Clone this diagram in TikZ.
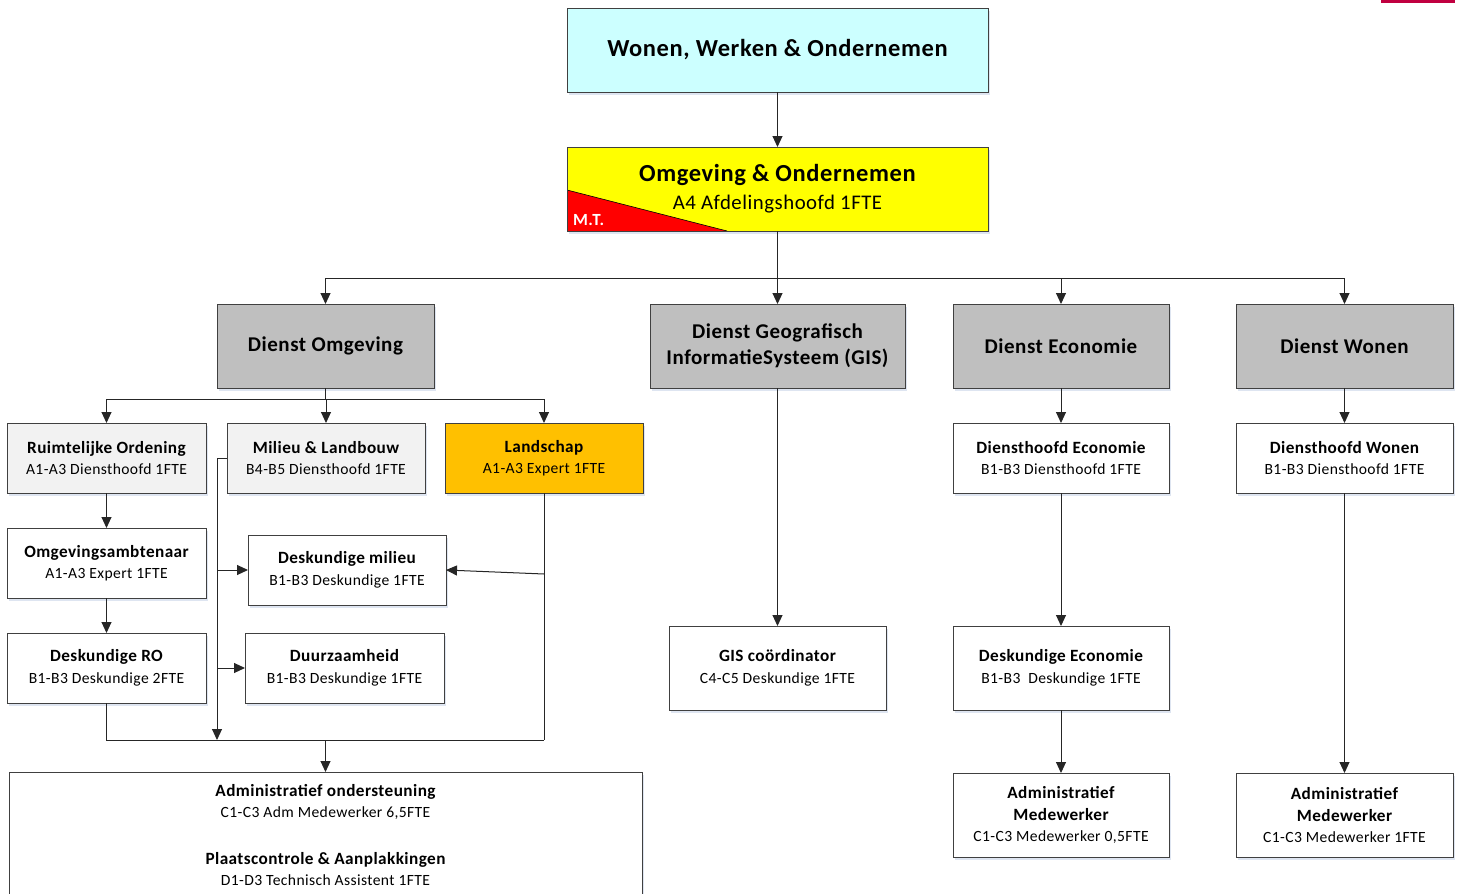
\documentclass[tikz,border=0pt]{standalone}
\usepackage{fontspec}
\setmainfont{Carlito}[LetterSpace=2.5]
\usetikzlibrary{arrows.meta,shadows}
\definecolor{topc}{HTML}{CCFFFF}
\definecolor{yel}{HTML}{FFFF00}
\definecolor{redc}{HTML}{FF0000}
\definecolor{grayc}{HTML}{BFBFBF}
\definecolor{lightc}{HTML}{F2F2F2}
\definecolor{orangec}{HTML}{FFC000}
\definecolor{boxline}{HTML}{404040}
\definecolor{crim}{HTML}{C00040}
\definecolor{shadc}{HTML}{C8D4E8}
\newcommand\ttl[1]{{\bfseries\fontsize{17.2}{21.5}\selectfont #1}}
\newcommand\sbt[1]{{\fontsize{15.6}{21.5}\selectfont #1}}
\begin{document}
\begin{tikzpicture}[x=1pt,y=-1pt,
  box/.style={draw=boxline, line width=1pt, anchor=north west, inner sep=0pt, outer sep=0pt,
    align=center, font=\fontsize{15.6}{21.5}\selectfont, fill=white,
    drop shadow={shadow xshift=2pt, shadow yshift=-3pt, fill=shadc, opacity=0.6}},
  dienst/.style={box, fill=grayc, minimum height=84pt, font=\bfseries\fontsize{21}{26}\selectfont},
  small/.style={box, minimum height=70pt},
  arr/.style={draw=black!85, line width=1pt, -{Triangle[length=11pt,width=10pt]}},
  ln/.style={draw=black!85, line width=1pt}]
\useasboundingbox (0,0) rectangle (1460,894);
\fill[crim] (1381,0) rectangle (1455,3);

% top levels
\node[box, fill=topc, minimum width=421pt, minimum height=84pt, font=\bfseries\fontsize{24.5}{28}\selectfont] (top) at (567,8) {Wonen, Werken \& Ondernemen};
\node[box, fill=yel, minimum width=421pt, minimum height=84pt, font=\fontsize{20.8}{28}\selectfont,
  path picture={\fill[redc] ([yshift=41pt]path picture bounding box.south west) -- ([xshift=160pt]path picture bounding box.south west) -- (path picture bounding box.south west) -- cycle;
  \draw[black, line width=0.6pt] ([yshift=41pt]path picture bounding box.south west) -- ([xshift=160pt]path picture bounding box.south west);}]
  (om) at (567,147) {{\bfseries\fontsize{24.5}{28}\selectfont Omgeving \& Ondernemen}\\A4 Afdelingshoofd 1FTE};
\node[anchor=west, text=white, font=\bfseries\fontsize{17}{18}\selectfont, inner sep=0pt] (mt) at (573,220) {M.T.};

% diensten
\node[dienst, minimum width=217pt] (do) at (217,304) {Dienst Omgeving};
\node[dienst, minimum width=255pt] (gis) at (650,304) {Dienst Geografisch\\InformatieSysteem (GIS)};
\node[dienst, minimum width=216pt] (dec) at (953,304) {Dienst Economie};
\node[dienst, minimum width=217pt] (dw) at (1236,304) {Dienst Wonen};

% omgeving cluster
\node[small, fill=lightc, minimum width=199pt] (ro) at (7,423) {\ttl{Ruimtelijke Ordening}\\\sbt{A1-A3 Diensthoofd 1FTE}};
\node[small, fill=lightc, minimum width=198pt] (ml) at (227,423) {\ttl{Milieu \& Landbouw}\\\sbt{B4-B5 Diensthoofd 1FTE}};
\node[small, fill=orangec, minimum width=198pt] (ls) at (445,423) {\ttl{Landschap}\\\sbt{A1-A3 Expert 1FTE}};
\node[small, minimum width=199pt] (oa) at (7,528) {\ttl{Omgevingsambtenaar}\\\sbt{A1-A3 Expert 1FTE}};
\node[small, minimum width=198pt] (dm) at (248,535) {\ttl{Deskundige milieu}\\\sbt{B1-B3 Deskundige 1FTE}};
\node[small, minimum width=199pt] (dro) at (7,633) {\ttl{Deskundige RO}\\\sbt{B1-B3 Deskundige 2FTE}};
\node[small, minimum width=199pt] (dz) at (245,633) {\ttl{Duurzaamheid}\\\sbt{B1-B3 Deskundige 1FTE}};
\node[box, minimum width=633pt, minimum height=130pt] (adm) at (9,772) {};
\node[anchor=north, inner sep=0pt, align=center, font=\fontsize{15.6}{21}\selectfont] (admt) at ([yshift=-12pt]adm.north)
  {\ttl{Administratief ondersteuning}\\\sbt{C1-C3 Adm Medewerker 6,5FTE}\\[26pt]\ttl{Plaatscontrole \& Aanplakkingen}\\\sbt{D1-D3 Technisch Assistent 1FTE}};

% GIS
\node[box, minimum width=217pt, minimum height=84pt] (gisc) at (669,626) {\ttl{GIS coördinator}\\\sbt{C4-C5 Deskundige 1FTE}};
% Economie
\node[small, minimum width=216pt] (dhe) at (953,423) {\ttl{Diensthoofd Economie}\\\sbt{B1-B3 Diensthoofd 1FTE}};
\node[box, minimum width=216pt, minimum height=84pt] (de) at (953,626) {\ttl{Deskundige Economie}\\\sbt{B1-B3~ Deskundige 1FTE}};
\node[box, minimum width=216pt, minimum height=84pt] (ame) at (953,773) {\ttl{Administratief}\\\ttl{Medewerker}\\\sbt{C1-C3 Medewerker 0,5FTE}};
% Wonen
\node[small, minimum width=217pt] (dhw) at (1236,423) {\ttl{Diensthoofd Wonen}\\\sbt{B1-B3 Diensthoofd 1FTE}};
\node[box, minimum width=217pt, minimum height=84pt] (amw) at (1236,773) {\ttl{Administratief}\\\ttl{Medewerker}\\\sbt{C1-C3 Medewerker 1FTE}};

% connectors
\draw[arr] (top.south) -- (om.north);
\coordinate (hub) at (om.south |- 0,278);
\draw[arr] (om.south) -- (gis.north);
\draw[arr] (hub) -| (do.north);
\draw[arr] (hub) -| (dec.north);
\draw[arr] (hub) -| (dw.north);

\coordinate (h2) at (do.south |- 0,399);
\draw[ln] (do.south) -- (h2);
\draw[arr] (h2) -| (ro.north);
\draw[arr] (h2) -| (ml.north);
\draw[arr] (h2) -| (ls.north);
\draw[arr] (ro.south) -- (oa.north);
\draw[arr] (oa.south) -- (dro.north);

\coordinate (mlA) at (217,458);
\coordinate (mlB) at (217,740);
\draw[arr] (ml.west) -- (mlA) -- (mlB);
\draw[arr] (mlA |- dm.west) -- (dm.west);
\draw[arr] (mlA |- dz.west) -- (dz.west);

\coordinate (lsB) at (ls.south |- 0,740);
\coordinate (lsM) at (ls.south |- 0,574);
\draw[ln] (ls.south) -- (lsB);
\draw[arr] (lsM) -- (dm.east);
\draw[ln] (dro.south) |- (lsB);
\coordinate (h3) at (adm.north |- 0,740);
\draw[arr] (h3) -- (adm.north);

\draw[arr] (gis.south) -- (gisc.north);
\draw[arr] (dec.south) -- (dhe.north);
\draw[arr] (dhe.south) -- (de.north);
\draw[arr] (de.south) -- (ame.north);
\draw[arr] (dw.south) -- (dhw.north);
\draw[arr] (dhw.south) -- (amw.north);
\end{tikzpicture}
\end{document}
